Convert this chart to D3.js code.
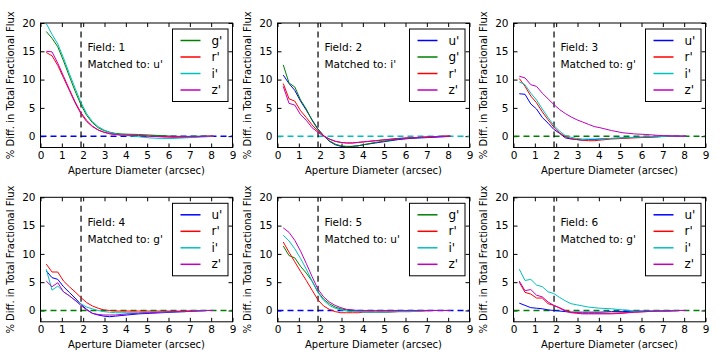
<!DOCTYPE html>
<html lang="en">
<head>
<meta charset="UTF-8">
<title>Aperture flux differences</title>
<script src="https://cdn.jsdelivr.net/npm/d3@7"></script>
<style>
  body { margin: 0; background: #fff; }
  svg text { font-family: "DejaVu Sans", sans-serif; fill: #000; }
</style>
</head>
<body>
<div id="chart"></div>
<script>
// aperture diameters (arcsec)
const apertures = [0.27,0.54,0.81,1.08,1.35,1.62,1.89,2.16,2.43,2.70,2.97,3.24,3.51,3.78,4.05,4.59,5.13,5.67,6.21,6.75,7.29,7.83,8.10];
const xTicks = [0,1,2,3,4,5,6,7,8,9];
const yTicks = [0,5,10,15,20];

// Field 1, matched to u'
const f1_g = [18.5,17.3,15.8,13.3,10.6,8.0,5.6,3.7,2.4,1.5,1.0,0.7,0.5,0.4,0.35,0.3,0.2,0.1,0.0,-0.05,0.0,0.0,0.0];
const f1_r = [14.8,14.2,12.5,10.3,8.1,5.9,4.0,2.6,1.7,1.1,0.7,0.4,0.3,0.2,0.2,0.1,0.0,-0.1,-0.2,-0.2,-0.1,0.0,0.0];
const f1_i = [19.9,18.0,16.3,13.8,11.1,8.5,6.0,4.0,2.6,1.7,1.1,0.7,0.4,0.2,0.1,-0.1,-0.3,-0.4,-0.4,-0.3,-0.2,-0.1,0.0];
const f1_z = [15.0,14.9,12.9,10.6,8.3,6.1,4.2,2.8,1.8,1.1,0.7,0.5,0.3,0.2,0.2,0.1,0.0,-0.1,-0.1,-0.1,-0.1,0.0,0.0];

// Field 2, matched to i'
const f2_u = [10.8,9.3,8.1,6.2,4.6,2.9,1.3,0.1,-0.9,-1.5,-1.8,-1.9,-1.8,-1.7,-1.5,-1.2,-0.9,-0.6,-0.4,-0.3,-0.2,-0.1,0.0];
const f2_g = [12.6,9.4,8.7,6.4,4.8,2.8,1.2,0.1,-0.8,-1.4,-1.7,-1.8,-1.8,-1.7,-1.5,-1.1,-0.8,-0.5,-0.3,-0.2,-0.1,0.0,0.0];
const f2_r = [9.3,6.6,6.2,4.5,3.3,2.0,0.9,0.1,-0.5,-0.9,-1.1,-1.2,-1.2,-1.1,-1.0,-0.8,-0.6,-0.4,-0.3,-0.2,-0.1,0.0,0.0];
const f2_z = [8.8,5.8,5.5,3.8,2.8,1.5,0.7,0.0,-0.5,-0.9,-1.1,-1.2,-1.2,-1.1,-1.0,-0.8,-0.6,-0.4,-0.3,-0.2,-0.1,0.0,0.0];

// Field 3, matched to g'
const f3_u = [7.5,7.4,5.7,4.8,3.3,2.3,1.2,0.5,-0.3,-0.5,-0.6,-0.7,-0.6,-0.6,-0.5,-0.4,-0.3,-0.2,-0.2,-0.1,0.0,0.0,0.0];
const f3_r = [10.2,8.8,7.1,5.9,4.3,2.9,1.6,0.6,-0.1,-0.4,-0.6,-0.7,-0.8,-0.8,-0.7,-0.5,-0.4,-0.3,-0.2,-0.1,0.0,0.0,0.0];
const f3_i = [9.6,9.1,7.6,6.4,4.8,3.3,1.9,0.9,0.1,-0.2,-0.4,-0.5,-0.5,-0.5,-0.5,-0.4,-0.3,-0.2,-0.1,-0.1,0.0,0.0,0.0];
const f3_z = [10.6,10.3,9.1,8.8,7.6,6.6,5.6,4.7,4.0,3.4,2.9,2.5,2.1,1.7,1.5,1.0,0.6,0.4,0.3,0.15,0.05,0.0,0.0];

// Field 4, matched to g'
const f4_u = [7.0,5.8,5.5,4.2,3.2,2.2,1.1,0.2,-0.5,-0.8,-1.0,-1.1,-1.0,-0.9,-0.8,-0.6,-0.5,-0.4,-0.3,-0.2,-0.1,0.0,0.0];
const f4_r = [8.2,6.8,6.8,5.2,4.2,3.3,2.3,1.4,0.8,0.4,0.1,0.0,-0.1,-0.1,-0.1,-0.1,-0.1,-0.1,-0.1,-0.1,0.0,0.0,0.0];
const f4_i = [7.3,3.6,4.3,3.3,2.6,1.8,1.2,0.6,0.3,0.0,-0.2,-0.3,-0.4,-0.4,-0.4,-0.4,-0.3,-0.3,-0.2,-0.2,-0.1,0.0,0.0];
const f4_z = [5.2,4.2,4.9,3.3,2.6,1.8,0.9,0.1,-0.5,-0.7,-0.8,-0.8,-0.8,-0.7,-0.6,-0.5,-0.4,-0.3,-0.2,-0.2,-0.1,0.0,0.0];

// Field 5, matched to u'
const f5_g = [11.4,9.7,9.3,7.8,6.6,5.2,3.3,2.0,1.2,0.6,0.3,0.1,0.0,-0.1,-0.1,-0.1,-0.1,-0.1,0.0,0.0,0.0,0.0,0.0];
const f5_r = [12.1,10.3,8.6,6.9,5.3,3.6,1.9,0.8,0.2,-0.2,-0.4,-0.4,-0.4,-0.4,-0.3,-0.3,-0.3,-0.2,-0.2,-0.1,0.0,0.0,0.0];
const f5_i = [13.3,12.3,10.9,9.2,7.3,5.2,3.2,1.8,0.9,0.4,0.1,-0.1,-0.2,-0.2,-0.3,-0.3,-0.3,-0.2,-0.2,-0.1,0.0,0.0,0.0];
const f5_z = [14.6,13.8,12.4,10.5,8.3,6.0,3.8,2.4,1.5,0.9,0.5,0.2,0.1,0.0,0.0,0.0,0.0,0.0,0.0,0.0,0.0,0.0,0.0];

// Field 6, matched to g'
const f6_u = [1.3,0.9,0.5,0.4,0.3,0.1,0.0,-0.1,-0.2,-0.3,-0.3,-0.3,-0.3,-0.3,-0.3,-0.2,-0.2,-0.1,-0.1,-0.1,0.0,0.0,0.0];
const f6_r = [5.0,3.2,2.9,2.2,2.2,1.2,0.9,0.5,0.0,-0.3,-0.4,-0.5,-0.5,-0.5,-0.5,-0.5,-0.4,-0.3,-0.2,-0.1,-0.1,0.0,0.0];
const f6_i = [7.3,5.3,5.5,4.5,4.2,3.3,3.0,2.3,1.7,1.2,1.0,0.8,0.6,0.5,0.4,0.3,0.1,-0.1,-0.1,-0.1,-0.1,0.0,0.0];
const f6_z = [5.2,3.5,3.7,2.7,2.4,1.5,0.9,0.4,-0.1,-0.4,-0.5,-0.6,-0.6,-0.6,-0.6,-0.6,-0.5,-0.3,-0.2,-0.1,-0.1,0.0,0.0];

const bandColor = {"u'": "#0000ff", "g'": "#008000", "r'": "#ff0000", "i'": "#00bfbf", "z'": "#bf00bf"};

const panels = [
  {field: 1, ref: "u'", series: [["g'", f1_g], ["r'", f1_r], ["i'", f1_i], ["z'", f1_z]]},
  {field: 2, ref: "i'", series: [["u'", f2_u], ["g'", f2_g], ["r'", f2_r], ["z'", f2_z]]},
  {field: 3, ref: "g'", series: [["u'", f3_u], ["r'", f3_r], ["i'", f3_i], ["z'", f3_z]]},
  {field: 4, ref: "g'", series: [["u'", f4_u], ["r'", f4_r], ["i'", f4_i], ["z'", f4_z]]},
  {field: 5, ref: "u'", series: [["g'", f5_g], ["r'", f5_r], ["i'", f5_i], ["z'", f5_z]]},
  {field: 6, ref: "g'", series: [["u'", f6_u], ["r'", f6_r], ["i'", f6_i], ["z'", f6_z]]}
];

const W = 720, H = 360;
const pw = 192, ph = 124.5;
const lefts = [40.5, 277.5, 513.5], tops = [23, 197.3];

const svg = d3.select("#chart").append("svg")
  .attr("width", W).attr("height", H);

const x = d3.scaleLinear().domain([0, 9]).range([0, pw]);
const y = d3.scaleLinear().domain([-2, 20]).range([ph, 0]);

const line = d3.line()
  .x(d => x(d[0]))
  .y(d => y(d[1]));

panels.forEach((p, k) => {
  const g = svg.append("g")
    .attr("transform", `translate(${lefts[k % 3]},${tops[Math.floor(k / 3)]})`);

  // axes (inward ticks on all sides)
  const styleAxis = sel => {
    sel.select(".domain").remove();
    sel.selectAll("line").attr("stroke", "#000");
    sel.selectAll("text").attr("font-size", "10.5px").attr("font-family", "DejaVu Sans");
  };
  g.append("g").attr("transform", `translate(0,${ph})`)
    .call(d3.axisBottom(x).tickValues(xTicks).tickSizeInner(-4).tickSizeOuter(0).tickPadding(4))
    .call(styleAxis);
  g.append("g")
    .call(d3.axisTop(x).tickValues(xTicks).tickSizeInner(-4).tickSizeOuter(0).tickFormat(""))
    .call(styleAxis);
  g.append("g")
    .call(d3.axisLeft(y).tickValues(yTicks).tickSizeInner(-4).tickSizeOuter(0).tickPadding(5))
    .call(styleAxis);
  g.append("g").attr("transform", `translate(${pw},0)`)
    .call(d3.axisRight(y).tickValues(yTicks).tickSizeInner(-4).tickSizeOuter(0).tickFormat(""))
    .call(styleAxis);

  // reference lines
  g.append("line")
    .attr("x1", x(0)).attr("x2", x(9)).attr("y1", y(0)).attr("y2", y(0))
    .attr("stroke", bandColor[p.ref]).attr("stroke-width", 1.5)
    .attr("stroke-dasharray", "6,4");
  g.append("line")
    .attr("x1", x(1.9)).attr("x2", x(1.9)).attr("y1", y(-2)).attr("y2", y(20))
    .attr("stroke", "#000").attr("stroke-width", 1.2)
    .attr("stroke-dasharray", "6,4");

  // curves
  p.series.forEach(([band, vals]) => {
    g.append("path")
      .datum(apertures.map((a, i) => [a, vals[i]]))
      .attr("d", line)
      .attr("fill", "none")
      .attr("stroke", bandColor[band])
      .attr("stroke-width", 1);
  });

  // frame
  g.append("rect")
    .attr("width", pw).attr("height", ph)
    .attr("fill", "none").attr("stroke", "#000").attr("stroke-width", 1);

  // annotations
  g.append("text").attr("x", x(2.2)).attr("y", y(15))
    .attr("font-size", "10.5px").text("Field: " + p.field);
  g.append("text").attr("x", x(2.2)).attr("y", y(12))
    .attr("font-size", "10.5px").text("Matched to: " + p.ref);

  // legend
  const lg = g.append("g").attr("transform", `translate(${pw - 60},6)`);
  lg.append("rect").attr("width", 55.5).attr("height", 72.5)
    .attr("fill", "#fff").attr("stroke", "#000").attr("stroke-width", 1);
  p.series.forEach(([band], i) => {
    const cy = 11.5 + i * 16.5;
    lg.append("line").attr("x1", 8).attr("x2", 28).attr("y1", cy).attr("y2", cy)
      .attr("stroke", bandColor[band]).attr("stroke-width", 1.5);
    lg.append("text").attr("x", 39).attr("y", cy).attr("dy", "0.35em")
      .attr("font-size", "12px").text(band);
  });

  // axis titles
  g.append("text")
    .attr("x", pw / 2).attr("y", ph + 26)
    .attr("text-anchor", "middle").attr("font-size", "10px")
    .text("Aperture Diameter (arcsec)");
  g.append("text")
    .attr("transform", `translate(-27,${ph / 2}) rotate(-90)`)
    .attr("text-anchor", "middle").attr("font-size", "10px")
    .text("% Diff. in Total Fractional Flux");
});
</script>
</body>
</html>
